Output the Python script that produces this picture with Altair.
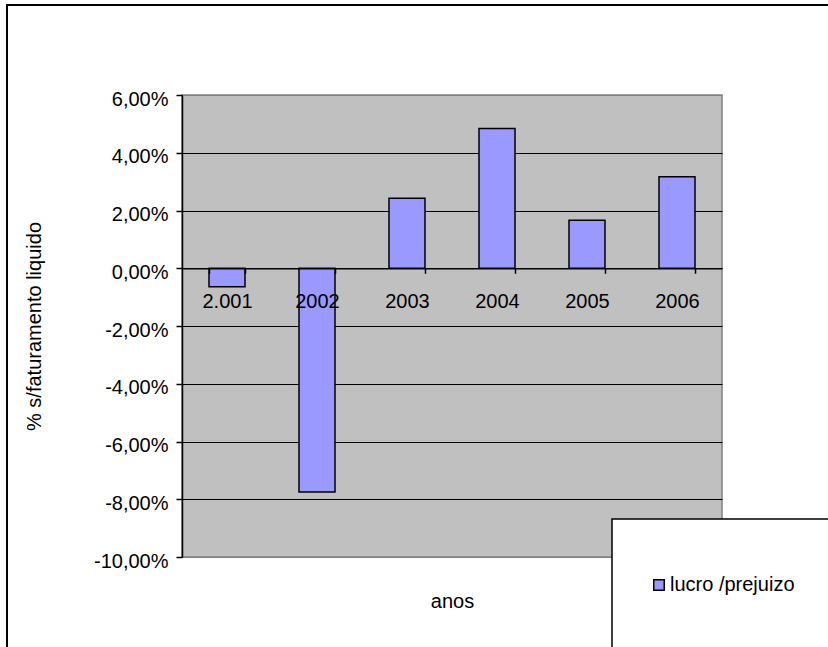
import altair as alt
import pandas as pd

# Net result as % of net revenue, per year
anos = ["2.001", "2002", "2003", "2004", "2005", "2006"]
lucro_prejuizo = [-0.64, -7.75, 2.42, 4.84, 1.66, 3.17]
serie = "lucro /prejuizo"
y_ticks = [-10, -8, -6, -4, -2, 0, 2, 4, 6]

df = pd.DataFrame({"ano": anos, "valor": lucro_prejuizo, "serie": [serie] * len(anos)})

W, H = 540, 462
Y_MIN, Y_MAX = -10, 6
FONT = "Liberation Sans"
zero_from_top = H * Y_MAX / (Y_MAX - Y_MIN)
zero_from_bottom = H - zero_from_top

pct_label = "replace(replace(format(datum.value, '.2f'), '.', ','), '\u2212', '-') + '%'"

x_enc = alt.X(
    "ano:N",
    sort=anos,
    scale=alt.Scale(paddingInner=0.6, paddingOuter=0.3),
    axis=alt.Axis(
        title="anos",
        offset=-zero_from_bottom,
        domainColor="black",
        domainWidth=1.5,
        tickColor="black",
        tickWidth=1.5,
        tickSize=5,
        tickBand="extent",
        labelAngle=0,
        labelBaseline="top",
        labelPadding=18,
        labelFontSize=20,
        labelColor="black",
        titleFontSize=20,
        titleFontWeight="normal",
        titleColor="black",
        titleX=W / 2,
        titleY=zero_from_bottom + 50,
        titleAlign="center",
        titleBaseline="alphabetic",
        grid=False,
        zindex=1,
    ),
)

y_enc = alt.Y(
    "valor:Q",
    scale=alt.Scale(domain=[Y_MIN, Y_MAX], nice=False, zero=False),
    axis=alt.Axis(
        title="% s/faturamento liquido",
        values=y_ticks,
        labelExpr=pct_label,
        labelFontSize=20,
        labelColor="black",
        labelPadding=8,
        labelOffset=4,
        domainColor="black",
        domainWidth=1.5,
        tickColor="black",
        tickWidth=1.5,
        tickSize=6,
        grid=True,
        gridColor=alt.condition("datum.value == 6 || datum.value == -10",
                                alt.value("#808080"), alt.value("black")),
        gridWidth=1.2,
        titleFontSize=20,
        titleFontWeight="normal",
        titleColor="black",
        titleAngle=270,
        titleX=-148,
        titleY=H / 2,
        titleAlign="center",
        titleBaseline="middle",
    ),
)

bars = alt.Chart(df).mark_bar(stroke="black", strokeWidth=1.5).encode(
    x=x_enc,
    y=y_enc,
    y2=alt.datum(0),
    color=alt.Color(
        "serie:N",
        scale=alt.Scale(domain=[serie], range=["#9999FF"]),
        legend=alt.Legend(
            title=None,
            orient="none",
            legendX=467,
            legendY=480,
            padding=0,
            symbolType="square",
            symbolSize=110,
            symbolStrokeColor="black",
            symbolStrokeWidth=1.5,
            symbolOpacity=1,
            labelFontSize=20,
            labelColor="black",
            labelOffset=1,
        ),
    ),
)

one = pd.DataFrame({"k": [0]})

# White legend panel sitting over the lower-right corner of the plot
legend_panel = alt.Chart(one).mark_rect(fill="white", stroke="black", strokeWidth=1.5).encode(
    x=alt.value(430), x2=alt.value(700), y=alt.value(424), y2=alt.value(620)
)

# Chart-area border
frame = alt.Chart(one).mark_rect(fillOpacity=0, stroke="black", strokeWidth=2).encode(
    x=alt.value(-175), x2=alt.value(700), y=alt.value(-90), y2=alt.value(620)
)

chart = (
    alt.layer(bars, legend_panel, frame)
    .properties(
        width=W,
        height=H,
        autosize=alt.AutoSizeParams(type="none"),
        padding={"left": 182, "top": 95, "right": 828 - 182 - W, "bottom": 647 - 95 - H},
        background="white",
    )
    .configure(font=FONT)
    .configure_view(fill="#C0C0C0", stroke="#808080", strokeWidth=1.5)
)

chart.save("out.html", embed_options={"renderer": "svg", "actions": False})
